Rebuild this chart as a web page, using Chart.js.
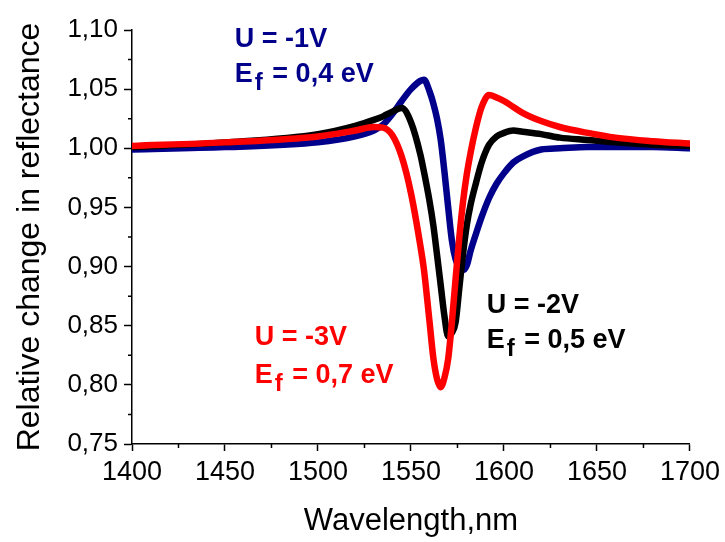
<!DOCTYPE html>
<html>
<head>
<meta charset="utf-8">
<script src="https://cdn.jsdelivr.net/npm/chart.js@4.4.1/dist/chart.umd.min.js"></script>
<style>
  html, body { margin: 0; padding: 0; background: #fff; }
  #wrap { width: 725px; height: 542px; position: relative; }
</style>
</head>
<body>
<div id="wrap"><canvas id="chart"></canvas></div>
<script>
// wavelength grid, nm
const wavelength = [1400, 1450, 1500, 1520, 1530, 1535, 1540, 1545, 1550, 1555, 1557, 1560, 1562, 1564, 1566, 1568, 1570, 1572, 1574, 1576, 1578, 1580, 1582, 1585, 1588, 1592, 1596, 1600, 1605, 1610, 1620, 1630, 1645, 1660, 1680, 1700];

// U = -3V, Ef = 0,7 eV
const red3V = [1.002, 1.005, 1.010, 1.015, 1.018, 1.0175, 1.011, 0.993, 0.962, 0.918, 0.897, 0.853, 0.823, 0.805, 0.798, 0.806, 0.822, 0.853, 0.890, 0.925, 0.955, 0.978, 0.996, 1.018, 1.035, 1.045, 1.043, 1.040, 1.035, 1.030, 1.023, 1.018, 1.013, 1.009, 1.006, 1.004];
// U = -2V, Ef = 0,5 eV
const black2V = [1.001, 1.005, 1.012, 1.019, 1.024, 1.027, 1.031, 1.034, 1.022, 0.995, 0.980, 0.955, 0.935, 0.910, 0.884, 0.858, 0.841, 0.844, 0.853, 0.882, 0.911, 0.935, 0.952, 0.971, 0.988, 1.003, 1.010, 1.013, 1.015, 1.014, 1.012, 1.009, 1.007, 1.005, 1.003, 1.002];
// U = -1V, Ef = 0,4 eV
const blue1V = [0.999, 1.001, 1.005, 1.010, 1.015, 1.020, 1.029, 1.040, 1.050, 1.057, 1.058, 1.048, 1.038, 1.025, 1.007, 0.980, 0.950, 0.922, 0.906, 0.899, 0.897, 0.901, 0.913, 0.928, 0.942, 0.958, 0.970, 0.979, 0.988, 0.993, 0.999, 1.000, 1.001, 1.001, 1.001, 1.000];

const xTicks = [1400, 1450, 1500, 1550, 1600, 1650, 1700];
const yTicks = [0.75, 0.80, 0.85, 0.90, 0.95, 1.00, 1.05, 1.10];

const FONT = "'Liberation Sans', Arial, sans-serif";

// text notes, placed in data units (left edge, baseline)
const notes = [
    { color: '#00008b', x: 1455.3, y: 1.0856, y2: 1.0563, top: 'U = -1V', ef: '0,4' },
    { color: '#000000', x: 1590.7, y: 0.8606, y2: 0.8315, top: 'U = -2V', ef: '0,5' },
    { color: '#ff0000', x: 1466.0, y: 0.8338, y2: 0.8019, top: 'U = -3V', ef: '0,7' }
];

function pts(ys) {
    return wavelength.map((w, i) => ({ x: w, y: ys[i] }));
}

// small ticks between the labelled ones + the text notes
const extras = {
    id: 'extras',
    afterDraw(chart) {
        const ctx = chart.ctx;
        const xs = chart.scales.x;
        const ys = chart.scales.y;
        ctx.save();
        ctx.strokeStyle = '#000';
        ctx.lineWidth = 1.5;
        ctx.beginPath();
        for (let i = 0; i < xTicks.length - 1; i++) {
            const px = xs.getPixelForValue((xTicks[i] + xTicks[i + 1]) / 2);
            ctx.moveTo(px, ys.bottom);
            ctx.lineTo(px, ys.bottom + 4);
        }
        for (let i = 0; i < yTicks.length - 1; i++) {
            const py = ys.getPixelForValue((yTicks[i] + yTicks[i + 1]) / 2);
            ctx.moveTo(xs.left, py);
            ctx.lineTo(xs.left - 4, py);
        }
        ctx.stroke();

        ctx.textBaseline = 'alphabetic';
        ctx.textAlign = 'left';
        notes.forEach(n => {
            const px = xs.getPixelForValue(n.x);
            ctx.fillStyle = n.color;
            ctx.font = 'bold 27px ' + FONT;
            ctx.fillText(n.top, px, ys.getPixelForValue(n.y));
            const py2 = ys.getPixelForValue(n.y2);
            ctx.fillText('E', px, py2);
            let w = ctx.measureText('E').width + 2;
            ctx.font = 'bold 24px ' + FONT;
            ctx.fillText('f', px + w, py2 + 8);
            w += ctx.measureText('f').width + 2;
            ctx.font = 'bold 27px ' + FONT;
            ctx.fillText(' = ' + n.ef + ' eV', px + w, py2);
        });
        ctx.restore();
    }
};

new Chart(document.getElementById('chart'), {
    type: 'line',
    data: {
        datasets: [
            { label: 'U = -3V', data: pts(red3V), borderColor: '#ff0000' },
            { label: 'U = -2V', data: pts(black2V), borderColor: '#000000' },
            { label: 'U = -1V', data: pts(blue1V), borderColor: '#00008b' }
        ]
    },
    options: {
        responsive: true,
        maintainAspectRatio: false,
        animation: false,
        layout: { padding: { top: 30, right: 34, left: 0, bottom: 0 } },
        elements: {
            point: { radius: 0 },
            line: { borderWidth: 6.5, cubicInterpolationMode: 'monotone', borderCapStyle: 'round', borderJoinStyle: 'round', fill: false }
        },
        plugins: {
            legend: { display: false },
            tooltip: { enabled: false }
        },
        scales: {
            x: {
                type: 'linear',
                min: 1400,
                max: 1700,
                afterBuildTicks: s => { s.ticks = xTicks.map(v => ({ value: v })); },
                afterFit: s => { s.height = 98; },
                grid: { drawOnChartArea: false, tickLength: 7, tickWidth: 1.5, tickColor: '#000' },
                border: { color: '#000', width: 1.5 },
                ticks: { color: '#000', font: { family: FONT, size: 27 }, padding: 5, maxRotation: 0, callback: v => String(v) },
                title: { display: true, text: 'Wavelength,nm', color: '#000', font: { family: FONT, size: 31 }, padding: { top: 0, bottom: 2 } }
            },
            y: {
                min: 0.75,
                max: 1.10,
                afterBuildTicks: s => { s.ticks = yTicks.map(v => ({ value: v })); },
                afterFit: s => { s.width = 132; },
                grid: { drawOnChartArea: false, tickLength: 8, tickWidth: 1.5, tickColor: '#000' },
                border: { color: '#000', width: 1.5 },
                ticks: { color: '#000', font: { family: FONT, size: 26 }, padding: 6, callback: v => v.toFixed(2).replace('.', ',') },
                title: { display: true, text: 'Relative change in reflectance', color: '#000', font: { family: FONT, size: 32 }, padding: { top: 11, bottom: 0 } }
            }
        }
    },
    plugins: [extras]
});
</script>
</body>
</html>
